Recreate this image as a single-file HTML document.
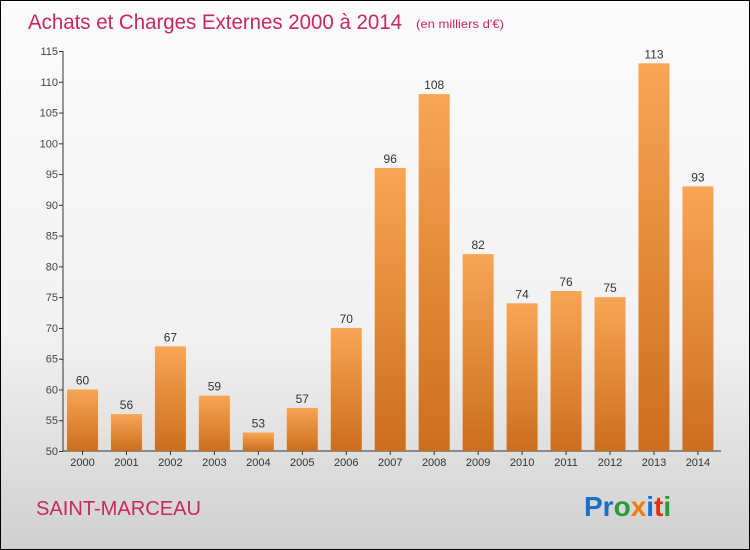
<!DOCTYPE html>
<html><head><meta charset="utf-8"><style>
body{margin:0;}
#wrap{position:relative;width:748px;height:548px;border:1px solid #000;background:linear-gradient(#fbfbfb 0%,#f2f2f2 60%,#d0d0d0 100%);overflow:hidden;font-family:"Liberation Sans",sans-serif;}
</style></head><body>
<div id="wrap">
<svg id="chart" width="748" height="548">
<defs><linearGradient id="bg" x1="0" y1="0" x2="0" y2="1"><stop offset="0" stop-color="#f7a655"/><stop offset="1" stop-color="#cc6e1e"/></linearGradient></defs>
<text x="27" y="28" font-size="21" textLength="374" lengthAdjust="spacingAndGlyphs" fill="#c8285a">Achats et Charges Externes 2000 à 2014</text>
<text x="415" y="27" font-size="12" textLength="88" lengthAdjust="spacingAndGlyphs" fill="#c8285a">(en milliers d'€)</text>
<text x="35" y="514" font-size="20" textLength="165" lengthAdjust="spacingAndGlyphs" fill="#c8285a">SAINT-MARCEAU</text>
<g font-size="28" font-weight="bold" font-family="'Liberation Sans',sans-serif">
<text x="583" y="515"><tspan fill="#1a6fc8">Pr</tspan><tspan fill="#2a9a3a">o</tspan><tspan fill="#f07a10">x</tspan><tspan fill="#1a6fc8">i</tspan><tspan fill="#e03010">t</tspan><tspan fill="#2a9a3a">i</tspan></text>
</g>
<g id="axes"></g><g id="bars"></g>
</svg>
</div>
<script>
const years=["2000","2001","2002","2003","2004","2005","2006","2007","2008","2009","2010","2011","2012","2013","2014"];
const values=[60,56,67,59,53,57,70,96,108,82,74,76,75,113,93];
const yTicks=[50,55,60,65,70,75,80,85,90,95,100,105,110,115];
const yMin=50,yMax=115,plotTop=50,plotBottom=450,plotLeft=62,x0=81.5,step=43.96,bw=31;
const ns="http://www.w3.org/2000/svg";
const yS=v=>plotBottom-(v-yMin)/(yMax-yMin)*(plotBottom-plotTop);
const xS=i=>x0+i*step;
function mk(t,a,p){const e=document.createElementNS(ns,t);for(const k in a)e.setAttribute(k,a[k]);p.appendChild(e);return e;}
const ax=document.getElementById('axes'),bg=document.getElementById('bars');
const yl=mk('line',{x1:plotLeft,y1:plotTop,x2:plotLeft,y2:plotBottom,stroke:'#333'},ax);


const xl=mk('line',{x1:plotLeft,y1:plotBottom,x2:720,y2:plotBottom,stroke:'#333'},ax);


yTicks.forEach(t=>{
 mk('line',{x1:plotLeft-4,y1:yS(t)+0.5,x2:plotLeft,y2:yS(t)+0.5,stroke:'#333'},ax);
 const tx=mk('text',{x:plotLeft-5,y:yS(t)+4,'font-size':11,fill:'#444','text-anchor':'end'},ax);
 tx.textContent=t;
 
 
});
years.forEach((yr,i)=>{
 const v=values[i];
 const r=mk('rect',{x:xS(i)-bw/2,y:yS(v),width:bw,height:plotBottom-yS(v),fill:'url(#bg)'},bg);
 
 
 mk('line',{x1:xS(i),y1:plotBottom,x2:xS(i),y2:plotBottom+4,stroke:'#333'},ax);
 const lb=mk('text',{x:xS(i),y:plotBottom+15,'font-size':11,fill:'#333','text-anchor':'middle'},ax);
 lb.textContent=yr;
 
 
 const vl=mk('text',{x:xS(i),y:yS(v)-5,'font-size':12,fill:'#333','text-anchor':'middle'},bg);
 vl.textContent=v;
 
 
});
</script>
</body></html>
